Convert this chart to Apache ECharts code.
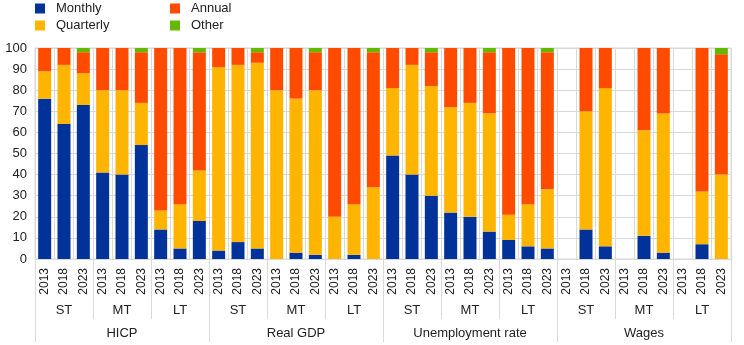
<!DOCTYPE html>
<html>
<head>
<meta charset="utf-8">
<script src="https://cdn.jsdelivr.net/npm/echarts@6/dist/echarts.min.js"></script>
<style>
  html, body { margin: 0; padding: 0; background: #fff; }
  #chart { width: 744px; height: 345px; }
</style>
</head>
<body>
<div id="chart"></div>
<script>
// Survey years within each horizon, per variable
const years = ['2013', '2018', '2023'];
const horizons = ['ST', 'MT', 'LT'];
const variables = ['HICP', 'Real GDP', 'Unemployment rate', 'Wages'];

// Share of respondents (%) by update frequency, 36 bars: variable > horizon > year
const monthly = [
  76, 64, 73,  41, 40, 54,  14, 5, 18,
  4, 8, 5,     0, 3, 2,     0, 2, 0,
  49, 40, 30,  22, 20, 13,  9, 6, 5,
  null, 14, 6, null, 11, 3, null, 7, 0
];
const quarterly = [
  13, 28, 15,  39, 40, 20,  9, 21, 24,
  87, 84, 88,  80, 73, 78,  20, 24, 34,
  32, 52, 52,  50, 54, 56,  12, 20, 28,
  null, 56, 75, null, 50, 66, null, 25, 40
];
const annual = [
  11, 8, 10,   20, 20, 24,  77, 74, 56,
  9, 8, 5,     20, 24, 18,  80, 74, 64,
  19, 8, 16,   28, 26, 29,  79, 74, 65,
  null, 30, 19, null, 39, 31, null, 68, 57
];
const other = [
  0, 0, 2,     0, 0, 2,     0, 0, 2,
  0, 0, 2,     0, 0, 2,     0, 0, 2,
  0, 0, 2,     0, 0, 2,     0, 0, 2,
  null, 0, 0,  null, 0, 0,  null, 0, 3
];

const yTicks = { min: 0, max: 100, interval: 10 };

// Build the nested category lists for the three axis levels
const yearCats = [];
const horizonCats = [];
variables.forEach(v => {
  horizons.forEach(h => {
    horizonCats.push(h);
    years.forEach(y => yearCats.push(y));
  });
});

const FONT = 'Arial, "Liberation Sans", sans-serif';
const GRID_COLOR = '#d9d9d9';
const TEXT_COLOR = '#222';

const colors = {
  Monthly: '#003299',
  Quarterly: '#ffb400',
  Annual: '#ff4b00',
  Other: '#65b800'
};

function barSeries(name, data) {
  return {
    name: name,
    type: 'bar',
    stack: 'share',
    xAxisIndex: 0,
    yAxisIndex: 0,
    barWidth: 13,
    data: data,
    itemStyle: { color: colors[name] },
    emphasis: { disabled: true }
  };
}

const legendBase = {
  orient: 'vertical',
  icon: 'rect',
  itemWidth: 10,
  itemHeight: 10,
  itemGap: 4,
  top: 2,
  padding: 0,
  textStyle: { fontFamily: FONT, fontSize: 13, color: TEXT_COLOR, padding: [0, 0, 0, 6] }
};

const chart = echarts.init(document.getElementById('chart'), null, { renderer: 'canvas' });

chart.setOption({
  animation: false,
  textStyle: { fontFamily: FONT },
  legend: [
    Object.assign({}, legendBase, { left: 35, data: ['Monthly', 'Quarterly'] }),
    Object.assign({}, legendBase, { left: 170, data: ['Annual', 'Other'] })
  ],
  grid: {
    left: 35,
    right: 13,
    top: 48,
    bottom: 86,
    show: true,
    borderColor: GRID_COLOR,
    borderWidth: 1
  },
  yAxis: {
    type: 'value',
    min: yTicks.min,
    max: yTicks.max,
    interval: yTicks.interval,
    axisLine: { show: false },
    axisTick: { show: false },
    axisLabel: { fontSize: 13, color: TEXT_COLOR, margin: 8 },
    splitLine: { lineStyle: { color: GRID_COLOR, width: 1 } }
  },
  xAxis: [
    {
      type: 'category',
      data: yearCats,
      position: 'bottom',
      axisLine: { lineStyle: { color: GRID_COLOR } },
      axisTick: { show: false },
      splitLine: { show: true, interval: 0, lineStyle: { color: GRID_COLOR, width: 1 } },
      axisLabel: { interval: 0, rotate: 90, fontSize: 12, color: TEXT_COLOR, margin: 9 }
    },
    {
      type: 'category',
      data: horizonCats,
      position: 'bottom',
      axisLine: { show: false },
      axisTick: { show: true, length: 60, interval: 0, lineStyle: { color: GRID_COLOR } },
      splitLine: { show: false },
      axisLabel: { interval: 0, fontSize: 13, color: TEXT_COLOR, margin: 45 }
    },
    {
      type: 'category',
      data: variables,
      position: 'bottom',
      axisLine: { show: false },
      axisTick: { show: true, length: 83, interval: 0, lineStyle: { color: GRID_COLOR } },
      splitLine: { show: false },
      axisLabel: { interval: 0, fontSize: 13, color: TEXT_COLOR, margin: 68 }
    }
  ],
  series: [
    barSeries('Monthly', monthly),
    barSeries('Quarterly', quarterly),
    barSeries('Annual', annual),
    barSeries('Other', other)
  ]
});
</script>
</body>
</html>
